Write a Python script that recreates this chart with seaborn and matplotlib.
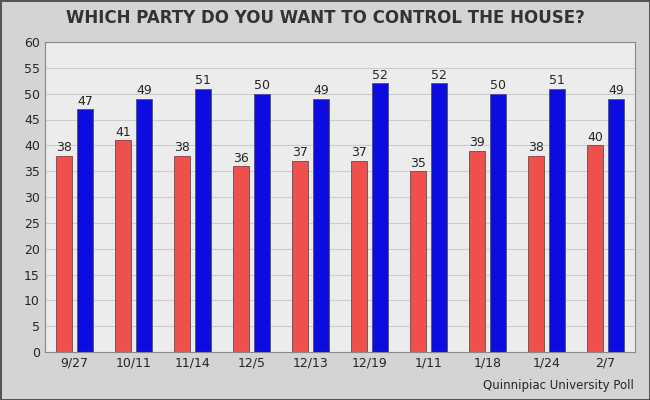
import matplotlib
matplotlib.use("Agg")
import matplotlib.pyplot as plt
import seaborn as sns
import pandas as pd

dates = ["9/27", "10/11", "11/14", "12/5", "12/13", "12/19", "1/11", "1/18", "1/24", "2/7"]
republican = [38, 41, 38, 36, 37, 37, 35, 39, 38, 40]
democrat = [47, 49, 51, 50, 49, 52, 52, 50, 51, 49]

df = pd.DataFrame({
    "date": dates * 2,
    "value": republican + democrat,
    "party": ["Rep"] * len(dates) + ["Dem"] * len(dates),
})

sns.set_style("whitegrid")
plt.rcParams['font.family'] = ['DejaVu Sans']

fig = plt.figure(figsize=(6.5, 4.0), dpi=100, facecolor="#d4d4d4",
                 edgecolor="#555555", linewidth=2)
ax = fig.add_axes([0.069, 0.12, 0.908, 0.775])
ax.set_facecolor("#ececec")

sns.barplot(data=df, x="date", y="value", hue="party",
            palette={"Rep": "#f0504c", "Dem": "#0c0ce0"}, saturation=1,
            width=0.72, gap=0.25, ax=ax, legend=False,
            edgecolor="#555555", linewidth=0.6)

for cont in ax.containers:
    ax.bar_label(cont, fontsize=9, padding=1)

ax.set_ylim(0, 60)
ax.set_yticks(range(0, 61, 5))
ax.set_xlabel("")
ax.set_ylabel("")
ax.tick_params(labelsize=9, length=0)
ax.grid(axis="y", color="#cccccc", linewidth=0.8)
ax.grid(axis="x", visible=False)
for s in ax.spines.values():
    s.set_color("#888888")
    s.set_linewidth(0.8)

fig.text(0.5, 0.955, "WHICH PARTY DO YOU WANT TO CONTROL THE HOUSE?",
         ha="center", va="center", fontsize=12, fontweight="bold", color="#333333")
fig.text(0.975, 0.035, "Quinnipiac University Poll", ha="right", va="center", fontsize=8.5)

fig.savefig("out.png", dpi=100, facecolor=fig.get_facecolor(), edgecolor=fig.get_edgecolor())
